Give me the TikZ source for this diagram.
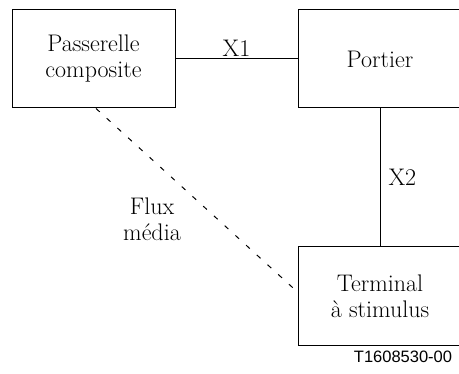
\documentclass[tikz,border=0pt]{standalone}
\usepackage{fontspec}
\newfontfamily\labelsans{Liberation Sans}
\begin{document}
\begin{tikzpicture}[x=1pt,y=1pt,
  txt/.style={font=\fontsize{24}{26}\selectfont},
  box/.style={draw, line width=1pt, inner sep=0pt, align=center, txt},
  conn/.style={line width=1pt},
  lbl/.style={inner sep=0pt, align=center, txt}]
\clip (0,0) rectangle (459,374);
\useasboundingbox (0,0) rectangle (459,374);
\node[box, minimum width=163pt, minimum height=98pt] (A) at (93.5,315) {Passerelle\\composite};
\node[box, minimum width=164pt, minimum height=98pt] (B) at (380,315) {Portier};
\node[box, minimum width=164pt, minimum height=99pt] (C) at (380,77.5) {Terminal\\à stimulus};
\draw[conn] (A.east) -- node[above, inner sep=1.5pt, txt] (x1) {X1} (B.east -| B.west);
\draw[conn] (B.south) -- node[midway, anchor=west, inner sep=0pt, xshift=8pt, txt] (x2) {X2} (C.north);
\draw[conn, dash pattern=on 5pt off 9.5pt] ([xshift=2.5pt]A.south) -- ([yshift=4.5pt]C.west);
\node[lbl] (flux) at (152,155) {Flux\\média};
\node[inner sep=0pt, font=\labelsans\fontsize{16.5}{18}\selectfont] (ref) at (403,17) {T1608530-00};
\end{tikzpicture}
\end{document}
